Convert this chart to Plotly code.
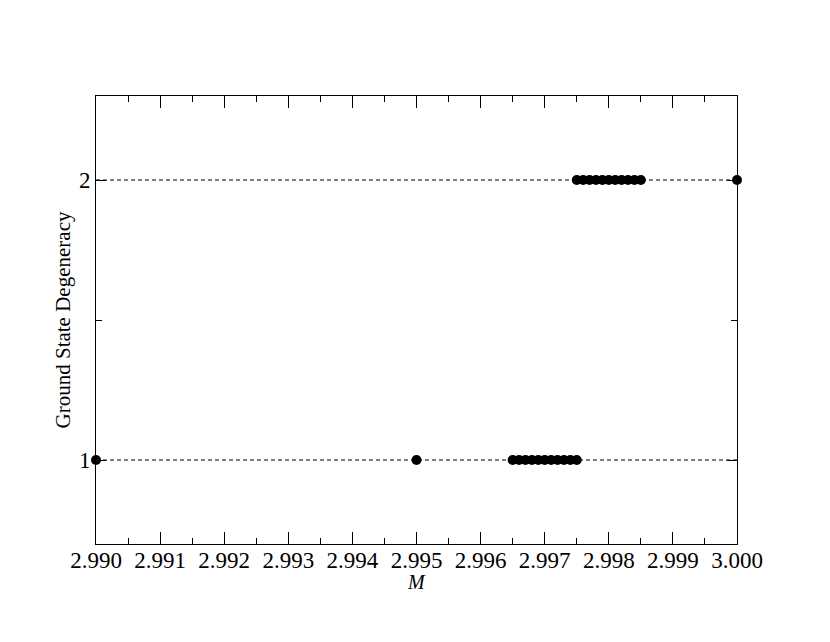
import plotly.graph_objects as go

# ground state degeneracy vs M
M_ONE = [2.990, 2.995, 2.9965, 2.9966, 2.9967, 2.9968, 2.9969, 2.9970,
         2.9971, 2.9972, 2.9973, 2.9974, 2.9975]
DEG_ONE = [1] * len(M_ONE)

M_TWO = [2.9975, 2.9976, 2.9977, 2.9978, 2.9979, 2.9980, 2.9981, 2.9982,
         2.9983, 2.9984, 2.9985, 3.000]
DEG_TWO = [2] * len(M_TWO)

GUIDE_X = [2.990, 3.000]
GUIDE_LEVELS = [1, 2]

FONT = "Liberation Serif"

fig = go.Figure()
for level in GUIDE_LEVELS:
    fig.add_trace(go.Scatter(
        x=GUIDE_X, y=[level, level], mode="lines",
        line=dict(color="black", width=1, dash="4px,3px"),
        showlegend=False, hoverinfo="skip",
    ))
for xs, ys in ((M_ONE, DEG_ONE), (M_TWO, DEG_TWO)):
    fig.add_trace(go.Scatter(
        x=xs, y=ys, mode="markers",
        marker=dict(color="black", size=10),
        showlegend=False, cliponaxis=False,
    ))

axis_common = dict(
    showline=True, linecolor="black", linewidth=1, mirror="ticks",
    ticks="inside", tickcolor="black", showgrid=False, zeroline=False,
    tickfont=dict(family=FONT, size=23, color="black"),
)
fig.update_xaxes(
    range=[2.990, 3.000], tickvals=[2.990 + 0.001 * i for i in range(11)],
    tickformat=".3f", ticklen=12, ticklabelstandoff=-5,
    minor=dict(dtick=0.0005, tick0=2.990, ticks="inside", ticklen=6, tickcolor="black"),
    **axis_common,
)
fig.update_yaxes(
    range=[0.7, 2.3], tickvals=[1, 2], ticklen=10,
    minor=dict(tickvals=[1.5], ticks="inside", ticklen=6, tickcolor="black"),
    title=dict(text="Ground State Degeneracy", font=dict(family=FONT, size=21, color="black"), standoff=2),
    **axis_common,
)
# x-axis title placed close under the tick labels, as in the original
fig.add_annotation(
    text="<i>M</i>", x=0.5, xref="paper", y=-0.058, yref="paper",
    yanchor="top", showarrow=False, borderpad=0,
    font=dict(family=FONT, size=20, color="black"),
)
fig.update_layout(
    width=830, height=642,
    margin=dict(l=88, r=101, t=88, b=106),
    plot_bgcolor="white", paper_bgcolor="white",
)
fig.write_html("out.html")
